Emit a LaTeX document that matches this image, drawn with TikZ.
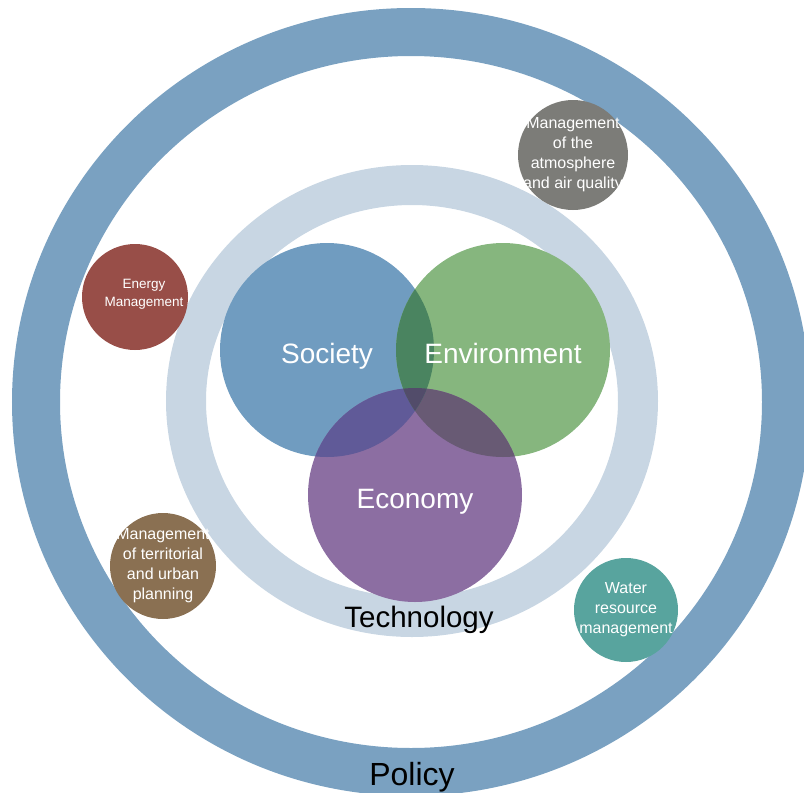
\documentclass[tikz,border=0pt]{standalone}
\usepackage{fontspec}
\setmainfont{Liberation Sans}

\definecolor{policy}{RGB}{122,161,193}
\definecolor{techno}{RGB}{200,214,227}
\definecolor{society}{RGB}{112,156,192}
\definecolor{environ}{RGB}{134,182,126}
\definecolor{economy}{RGB}{140,110,162}
% overlaps of the pillars
\definecolor{socenv}{RGB}{74,132,96}
\definecolor{soceco}{RGB}{96,90,152}
\definecolor{enveco}{RGB}{104,90,116}
\definecolor{allthree}{RGB}{82,76,106}
\definecolor{atmo}{RGB}{124,124,120}
\definecolor{energy}{RGB}{152,78,72}
\definecolor{urban}{RGB}{138,112,82}
\definecolor{water}{RGB}{88,164,158}

\begin{document}
\begin{tikzpicture}[x=1pt, y=-1pt,
    main/.style = {circle, minimum size=214pt, inner sep=0pt},
    pillar/.style = {text=white, text height=20pt, text depth=0pt, font=\fontsize{28}{32}\selectfont},
    sub/.style = {circle, inner sep=0pt},
    subtext/.style = {text=white, align=center, font=\fontsize{16}{20}\selectfont},
    ring/.style = {text=black}]
  \useasboundingbox (0,0) rectangle (804,793);

  % the two rings
  \draw[policy, line width=48pt] (411,402) ellipse [x radius=375, y radius=370];
  \draw[techno, line width=40pt] (412,401) ellipse [x radius=226, y radius=216];

  % the three pillars
  \node[main, fill=society] (1) at (327,350) {};
  \node[main, fill=environ] (2) at (503,350) {};
  \node[main, fill=economy] (3) at (415,495) {};

  % overlaps
  \begin{scope}
    \clip (2.center) circle (107);
    \fill[enveco] (3.center) circle (107);
  \end{scope}
  \begin{scope}
    \clip (1.center) circle (107);
    \fill[soceco] (3.center) circle (107);
    \fill[socenv] (2.center) circle (107);
    \clip (2.center) circle (107);
    \fill[allthree] (3.center) circle (107);
  \end{scope}

  \node[pillar] (s) at ([yshift=-3pt]1) {Society};
  \node[pillar] (e) at ([yshift=-3pt]2) {Environment};
  \node[pillar] (c) at ([yshift=-3pt]3) {Economy};

  % management fields
  \node[sub, fill=atmo, minimum size=110pt,
        label={[subtext]center:{Management\\of the\\atmosphere\\and air quality}}] (4) at (573,155) {};
  \node[sub, fill=energy, minimum size=106pt,
        label={[subtext, font=\fontsize{13.5}{18}\selectfont, xshift=9pt, yshift=3pt]center:{Energy\\Management}}] (5) at (135,297) {};
  \node[sub, fill=urban, minimum size=106pt,
        label={[subtext]center:{Management\\of territorial\\and urban\\planning}}] (6) at (163,566) {};
  \node[sub, fill=water, minimum size=104pt,
        label={[subtext]center:{Water\\resource\\management}}] (7) at (626,610) {};

  \node[ring, font=\fontsize{29.5}{34}\selectfont] (8) at (419,620) {Technology};
  \node[ring, font=\fontsize{32}{36}\selectfont] (9) at (412,777) {Policy};
\end{tikzpicture}
\end{document}
